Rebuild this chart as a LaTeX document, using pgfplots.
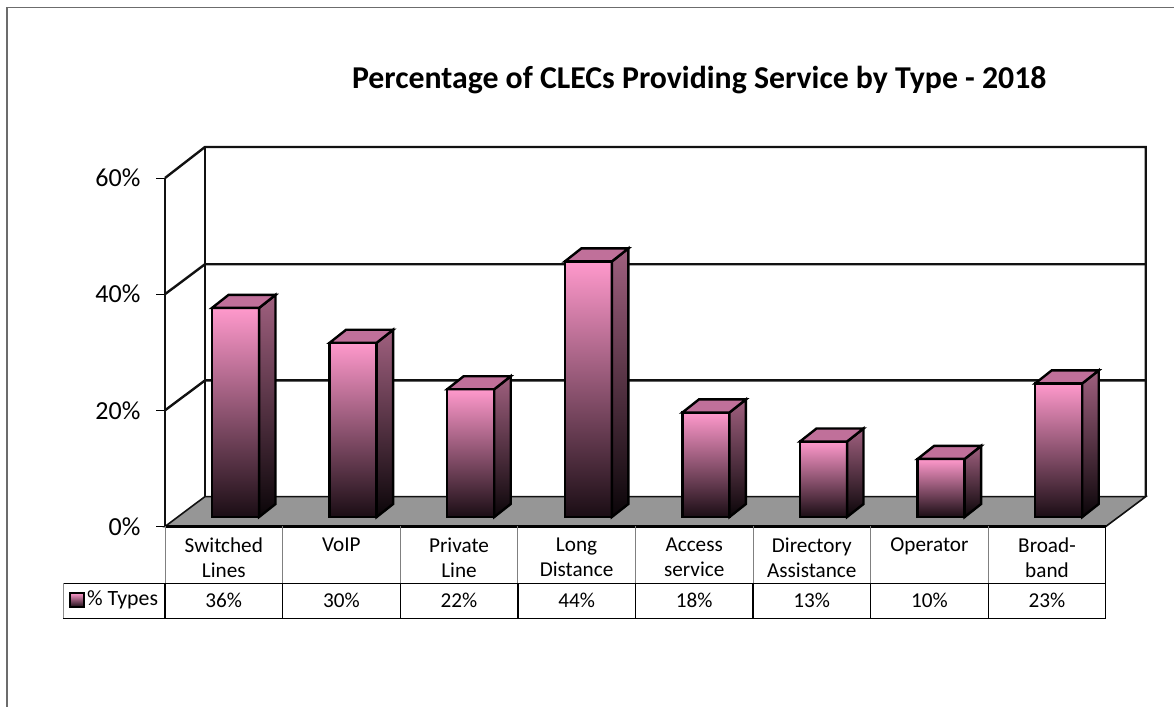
\documentclass[border=0pt]{standalone}
\usepackage{pgfplots}
\usepackage{pgfplotstable}
\usepackage{fontspec}
\setmainfont{Carlito}
\pgfplotsset{compat=1.18}
\definecolor{wallline}{HTML}{111111}
\definecolor{floorgrey}{HTML}{969696}
\definecolor{frontTop}{HTML}{FF99CC}
\definecolor{frontMid}{HTML}{B06A90}
\definecolor{frontBot}{HTML}{1A0D14}
\definecolor{sideTop}{HTML}{A0607F}
\definecolor{sideMid}{HTML}{623C52}
\definecolor{sideBot}{HTML}{0A0508}
\definecolor{capFill}{HTML}{C0709A}

\pgfplotstableread{
pos share
0.5 36
1.5 30
2.5 22
3.5 44
4.5 18
5.5 13
6.5 10
7.5 23
}\bardata

% depth of the floor and of the columns, in category and percent units
\def\wallx{0.340}
\def\colx{0.140}
\def\coly{2.24}

\begin{document}
\begin{tikzpicture}
\path[use as bounding box] (0,0) rectangle (587pt,353.5pt);
\draw[gray!85!black,line width=0.6pt] (3.5pt,0pt) -- (3.5pt,349.9pt) -- (587pt,349.9pt);

% front plane of the chart: walls, floor, tick labels and data table
\begin{axis}[
  at={(82.5pt,90.25pt)}, anchor=south west,
  width=470.4pt, height=174.25pt, scale only axis,
  xmin=0, xmax=8, ymin=0, ymax=60, clip=false,
  axis x line*=bottom, axis y line*=left,
  axis line style={line width=1.2pt,draw=wallline,-},
  ytick={0,20,40,60},
  yticklabel={\pgfmathprintnumber{\tick}\%},
  /pgf/number format/assume math mode=true,
  yticklabel style={font=\fontsize{13}{15}\selectfont,xshift=-4.3pt},
  tick align=outside, ytick style={draw=black,line width=0.4pt},
  major tick length=4.5pt,
  xtick={0.5,1.5,...,7.5},
  xticklabels={Switched\\Lines,VoIP,Private\\Line,Long\\Distance,Access\\service,Directory\\Assistance,Operator,Broad-\\band},
  x tick style={draw=none},
  xticklabel style={font=\fontsize{10.6}{12.5}\selectfont,align=center,text width=56pt,anchor=north,yshift=2.5pt},
  title={\fontsize{15.9}{18}\selectfont\bfseries Percentage of CLECs Providing Service by Type - 2018},
  title style={at={(0.568,1.247)},anchor=center},
]
% back wall and side wall
\addplot[draw=wallline,line width=1.2pt,forget plot] coordinates {(0,60) (\wallx,65.34) (8.34,65.34) (8.34,5.15)};
\addplot[draw=wallline,line width=1.2pt,forget plot] coordinates {(\wallx,5.15) (\wallx,65.34)};
% gridlines running across the side wall and the back wall
\addplot[draw=wallline,line width=1.2pt,forget plot] coordinates {(0,20) (\wallx,25.15) (8.34,25.15)};
\addplot[draw=wallline,line width=1.2pt,forget plot] coordinates {(0,40) (\wallx,45.15) (8.34,45.15)};
% floor
\addplot[fill=floorgrey,draw=wallline,line width=0.8pt,forget plot] coordinates {(0,0) (\wallx,5.15) (8.34,5.15) (8,0)} -- cycle;
\addplot[draw=black,line width=1.2pt,forget plot] coordinates {(0,0) (8,0)};
% data table grid
\addplot[draw=black!50,line width=0.5pt,forget plot] coordinates {(0,0) (0,-9.73)};
\pgfplotsinvokeforeach{1,...,7}{
  \addplot[draw=black!50,line width=0.5pt,forget plot] coordinates {(#1,0) (#1,-9.73)};
  \addplot[draw=black,line width=0.7pt,forget plot] coordinates {(#1,-9.73) (#1,-15.84)};
}
\addplot[draw=black,line width=0.5pt,forget plot] coordinates {(8,0) (8,-15.84)};
\addplot[draw=black,line width=0.7pt,forget plot] coordinates {(0,-9.73) (0,-15.84)};
\addplot[draw=black,line width=0.5pt,forget plot] coordinates {(-0.867,-9.73) (8,-9.73)};
\addplot[draw=black,line width=0.5pt,forget plot] coordinates {(-0.867,-15.84) (8,-15.84)};
\addplot[draw=black!45,line width=0.4pt,forget plot] coordinates {(-0.867,-9.73) (-0.867,-15.84)};
% series key and value row
\draw[draw=black,line width=1pt,top color=frontTop,bottom color=frontBot] (axis cs:-0.808,-11.45) rectangle (axis cs:-0.689,-13.86);
\node[anchor=west,inner sep=0pt,font=\fontsize{10.9}{12.5}\selectfont] at (axis cs:-0.665,-12.65) {\% Types};
\addplot[draw=none,mark=none,forget plot,point meta=explicit,
  nodes near coords={\pgfmathprintnumber{\pgfplotspointmeta}\%},
  every node near coord/.append style={anchor=center,inner sep=0pt,font=\fontsize{10.6}{12.5}\selectfont}]
  table[x=pos,y expr=-12.65,meta=share] {\bardata};
\end{axis}

% columns stand a little behind the front edge of the floor
\begin{axis}[
  at={(88.38pt,95pt)}, anchor=south west,
  width=470.4pt, height=174.25pt, scale only axis,
  xmin=0, xmax=8, ymin=0, ymax=60, clip=false, hide axis,
]
\pgfplotsforeachungrouped \i in {0,...,7}{
  \pgfplotstablegetelem{\i}{pos}\of\bardata
  \let\p\pgfplotsretval
  \pgfplotstablegetelem{\i}{share}\of\bardata
  \let\v\pgfplotsretval
  \pgfmathsetmacro\xa{\p-0.2}
  \pgfmathsetmacro\xb{\p+0.2}
  \pgfmathsetmacro\xc{\xa+\colx}
  \pgfmathsetmacro\xd{\xb+\colx}
  \pgfmathsetmacro\yt{\v+\coly}
  % each column carries its own gradient from pink down to near black
  \addplot[ybar,bar width=23.5pt,bar shift=0pt,draw=black,line width=1.2pt,
    top color=frontTop,middle color=frontMid,bottom color=frontBot,forget plot]
    coordinates {(\p,\v)};
  \addplot[draw=black,line width=1.2pt,top color=sideTop,middle color=sideMid,bottom color=sideBot,mark=none,forget plot]
    coordinates {(\xb,0) (\xd,\coly) (\xd,\yt) (\xb,\v)} -- cycle;
  \addplot[draw=black,line width=1.2pt,fill=capFill,mark=none,forget plot]
    coordinates {(\xa,\v) (\xc,\yt) (\xd,\yt) (\xb,\v)} -- cycle;
}
\end{axis}
\end{tikzpicture}
\end{document}
